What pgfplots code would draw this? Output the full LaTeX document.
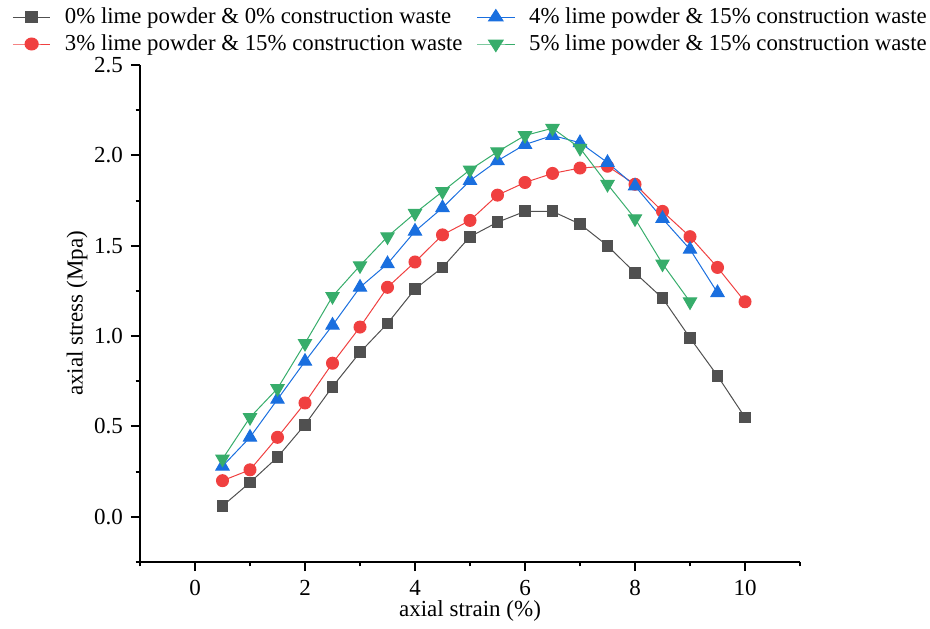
\documentclass[border=0pt]{standalone}
\usepackage{pgfplots}
\pgfplotsset{compat=1.18}
\usepackage{fontspec}
\setmainfont{Liberation Serif}
\definecolor{cgray}{RGB}{80,80,80}
\definecolor{cred}{RGB}{240,64,64}
\definecolor{cblue}{RGB}{26,111,223}
\definecolor{cgreen}{RGB}{55,173,107}
\begin{document}
\begin{tikzpicture}
\begin{axis}[
  scale only axis,
  width=330pt, height=248.5pt,
  xmin=-1, xmax=11, ymin=-0.25, ymax=2.5,
  axis x line*=bottom, axis y line*=left,
  axis line style={line width=1pt, black, -},
  xtick={0,2,4,6,8,10},
  minor xtick={-1,1,3,5,7,9,11},
  ytick={0,0.5,1,1.5,2,2.5},
  minor ytick={-0.25,0.25,0.75,1.25,1.75,2.25},
  tick align=outside,
  major tick length=4.5pt, minor tick length=2.2pt,
  tick style={line width=1pt, black},
  yticklabel style={xshift=-0.5pt},
  y tick label style={/pgf/number format/.cd,fixed,fixed zerofill,precision=1},
  /pgf/number format/assume math mode=true,
  tick label style={font=\fontsize{11.5}{13}\selectfont},
  xticklabel style={yshift=-1pt},
  label style={font=\fontsize{11.5}{13}\selectfont},
  xlabel={axial strain (\%)},
  ylabel={axial stress (Mpa)},
  xlabel style={yshift=4.5pt},
  ylabel style={yshift=-3.5pt},
  legend style={draw=none, fill=none, at={(-0.194,1.124)}, anchor=north west,
    font=\fontsize{11.4}{12.5}\selectfont, column sep=5pt, row sep=0pt,
    inner sep=0pt},
  legend columns=2, transpose legend,
  legend cell align=left,
  legend image post style={xscale=1.1},
]
\addplot[cgray, line width=0.5pt, mark=square*, mark size=2.7pt, mark options={fill=cgray, draw=cgray}] coordinates {
(0.5,0.06)(1,0.19)(1.5,0.33)(2,0.51)(2.5,0.72)(3,0.91)(3.5,1.07)(4,1.26)(4.5,1.38)(5,1.55)(5.5,1.63)(6,1.69)(6.5,1.69)(7,1.62)(7.5,1.50)(8,1.35)(8.5,1.21)(9,0.99)(9.5,0.78)(10,0.55)};
\addlegendentry{0\% lime powder \& 0\% construction waste}
\addplot[cred, line width=0.5pt, mark=*, mark size=3pt, mark options={fill=cred, draw=cred}] coordinates {
(0.5,0.20)(1,0.26)(1.5,0.44)(2,0.63)(2.5,0.85)(3,1.05)(3.5,1.27)(4,1.41)(4.5,1.56)(5,1.64)(5.5,1.78)(6,1.85)(6.5,1.90)(7,1.93)(7.5,1.94)(8,1.84)(8.5,1.69)(9,1.55)(9.5,1.38)(10,1.19)};
\addlegendentry{3\% lime powder \& 15\% construction waste}
\addplot[cblue, line width=0.5pt, mark=triangle*, mark size=3.8pt, mark options={fill=cblue, draw=cblue}] coordinates {
(0.5,0.28)(1,0.44)(1.5,0.65)(2,0.86)(2.5,1.06)(3,1.27)(3.5,1.40)(4,1.58)(4.5,1.71)(5,1.86)(5.5,1.97)(6,2.06)(6.5,2.11)(7,2.07)(7.5,1.96)(8,1.83)(8.5,1.65)(9,1.48)(9.5,1.24)};
\addlegendentry{4\% lime powder \& 15\% construction waste}
\addplot[cgreen, line width=0.5pt, mark=triangle*, mark size=3.8pt, mark options={fill=cgreen, draw=cgreen, rotate=180}] coordinates {
(0.5,0.32)(1,0.55)(1.5,0.71)(2,0.96)(2.5,1.22)(3,1.39)(3.5,1.55)(4,1.68)(4.5,1.80)(5,1.92)(5.5,2.02)(6,2.11)(6.5,2.15)(7,2.04)(7.5,1.84)(8,1.65)(8.5,1.40)(9,1.19)};
\addlegendentry{5\% lime powder \& 15\% construction waste}
\coordinate (o) at (rel axis cs:0,0);
\coordinate (p) at (rel axis cs:1,1);
\end{axis}
\pgfresetboundingbox
\path ([xshift=-70pt,yshift=-33pt]o) rectangle ([xshift=65pt,yshift=32.5pt]p);
\end{tikzpicture}
\end{document}
